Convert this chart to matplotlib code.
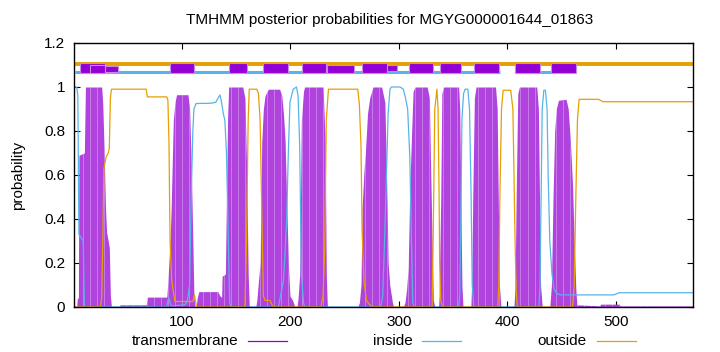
import matplotlib
matplotlib.use("Agg")
import numpy as np
import matplotlib.pyplot as plt
from matplotlib.lines import Line2D
from matplotlib.patches import Rectangle

plt.rcParams['font.family'] = ['Liberation Sans', 'DejaVu Sans']

title = "TMHMM posterior probabilities for MGYG000001644_01863"
seq_len = 571

# transmembrane posterior (residue, prob)
tm_x = [1, 3, 3.5, 4.5, 5, 10, 11, 26, 27, 28, 29.5, 30.5, 32, 33, 34, 35,
        42, 43, 67, 68, 86, 87, 89, 90, 91, 92, 93.5, 95, 105.5, 107, 108.5, 110, 111, 112,
        113, 114, 115.5, 133, 135, 136.5, 137, 140, 141, 142, 143, 156, 158, 159.5, 161, 162,
        168, 169, 170.5, 172, 173.5, 175, 176.5, 179.5, 190, 192, 193.5, 195, 196.5, 198, 199.5, 202, 204,
        206, 207, 208.5, 210, 212, 213, 230, 232, 233, 234,
        262, 263.5, 265, 266, 267.5, 269, 271, 273, 276, 284, 287, 288.5, 290, 291.5, 294, 295,
        304, 305.5, 307, 308.5, 310, 311.7, 313, 314.7, 326, 328, 329, 330.5, 331.7, 333,
        336.5, 337, 338.5, 339.5, 341, 355, 356, 357, 358, 359,
        366, 367, 368, 369.5, 371, 389, 390.5, 391.5, 392.5, 394,
        406, 407, 408, 409.5, 411, 427, 428.5, 429.5, 430.5, 432,
        439, 440.5, 442, 443.5, 445, 447, 454, 456, 458, 460, 461.5, 463, 464,
        485, 486, 503, 504, 571]
tm_y = [0, 0, 0.04, 0.04, 0.69, 0.70, 1.0, 1.0, 0.92, 0.75, 0.45, 0.34, 0.30, 0.27, 0.05, 0.0,
        0, 0.01, 0.01, 0.045, 0.045, 0.12, 0.3, 0.45, 0.65, 0.85, 0.93, 0.965, 0.965, 0.9, 0.65, 0.3, 0.05, 0.0,
        0, 0.04, 0.07, 0.07, 0.05, 0.045, 0.14, 0.15, 0.5, 0.85, 1.0, 1.0, 0.95, 0.65, 0.15, 0.0,
        0, 0.03, 0.12, 0.2, 0.75, 0.9, 0.96, 0.99, 0.99, 0.96, 0.88, 0.76, 0.48, 0.2, 0.05, 0.03, 0,
        0, 0.04, 0.15, 0.85, 0.98, 1.0, 1.0, 0.75, 0.15, 0,
        0, 0.02, 0.1, 0.45, 0.6, 0.7, 0.88, 0.95, 1.0, 1.0, 0.93, 0.6, 0.2, 0.1, 0.02, 0,
        0, 0.02, 0.08, 0.18, 0.55, 0.8, 0.98, 1.0, 1.0, 0.95, 0.68, 0.3, 0.03, 0,
        0, 0.05, 0.5, 0.97, 1.0, 1.0, 0.9, 0.5, 0.1, 0,
        0, 0.1, 0.5, 0.95, 1.0, 1.0, 0.9, 0.5, 0.1, 0,
        0, 0.1, 0.5, 0.97, 1.0, 1.0, 0.9, 0.5, 0.1, 0,
        0, 0.1, 0.5, 0.8, 0.9, 0.94, 0.944, 0.9, 0.75, 0.55, 0.3, 0.08, 0.01,
        0.005, 0.013, 0.013, 0.005, 0.005]

# inside posterior
in_x = [1, 3, 4, 5, 9, 10, 86, 87, 88, 89, 90, 103, 105, 107, 108.5, 110, 111, 113, 126, 131, 135,
        136.5, 138, 139.5, 141, 142.5, 144, 145,
        189, 190, 193.5, 195, 196.5, 198, 199.5, 202.5, 205.5, 207, 208.5, 210, 212, 213,
        283, 285, 286.7, 288.3, 290, 291.7, 293, 301, 304, 306, 308, 310, 311.5, 312.7, 314,
        355, 356, 357, 358, 359.5, 361, 363.5, 365, 366.5, 367.5, 369,
        429, 430, 431, 432, 433.5, 435, 436.5, 437.5, 439, 441, 443, 446, 449, 498, 503, 571]
in_y = [1.0, 1.0, 0.96, 0.33, 0.30, 0.0, 0, 0.03, 0.04, 0.02, 0.005, 0.01, 0.03, 0.1, 0.5, 0.8, 0.9, 0.925, 0.926, 0.93, 0.964,
        0.93, 0.88, 0.85, 0.7, 0.35, 0.02, 0,
        0, 0.03, 0.12, 0.25, 0.4, 0.7, 0.93, 0.99, 1.0, 0.96, 0.73, 0.15, 0.02, 0,
        0, 0.05, 0.3, 0.57, 0.88, 0.99, 1.0, 1.0, 0.99, 0.95, 0.9, 0.68, 0.3, 0.02, 0,
        0, 0.05, 0.4, 0.85, 0.97, 0.99, 0.99, 0.9, 0.5, 0.1, 0,
        0, 0.1, 0.5, 0.9, 0.985, 0.985, 0.9, 0.6, 0.3, 0.15, 0.08, 0.06, 0.055, 0.055, 0.065, 0.065]

# outside posterior
out_x = [1, 25, 26, 27, 28, 30, 32, 33, 34, 35, 67, 68, 86, 87, 88, 89, 90.5, 93.5, 110, 111.5, 113, 114,
         158, 159.5, 161, 162, 169, 170.5, 172, 173.5, 175, 176.5, 181, 184,
         228, 230, 231.5, 233, 235, 262, 263.5, 265, 266, 267.7, 270, 273, 276,
         330.5, 331.5, 333, 335, 336, 337, 337.5, 338.5, 340,
         391, 392, 393, 394.5, 396, 403, 405, 406, 407, 408, 409,
         460, 461.5, 463, 464.5, 466, 484, 488, 571]
out_y = [0, 0, 0.05, 0.3, 0.63, 0.68, 0.70, 0.72, 0.95, 0.99, 0.99, 0.955, 0.955, 0.94, 0.75, 0.3, 0.12, 0.025, 0.025, 0.055, 0.01, 0,
         0, 0.3, 0.85, 0.99, 0.99, 0.97, 0.85, 0.44, 0.05, 0.03, 0.03, 0,
         0, 0.05, 0.25, 0.85, 0.99, 0.99, 0.92, 0.73, 0.35, 0.12, 0.03, 0.01, 0,
         0, 0.3, 0.9, 0.99, 0.9, 0.5, 0.2, 0.03, 0,
         0, 0.1, 0.5, 0.9, 0.985, 0.985, 0.9, 0.6, 0.3, 0.08, 0,
         0, 0.1, 0.5, 0.85, 0.944, 0.944, 0.933, 0.933]

# topology bar segments (residues)
tm_box_start = [6, 15, 29, 89, 143, 175, 211, 234, 266, 289, 309, 338, 369, 407, 440]
tm_box_end = [29, 38, 41, 111, 160, 198, 233, 259, 289, 298, 331, 357, 392, 430, 463]
tm_box_low = [1.062, 1.062, 1.070, 1.062, 1.062, 1.062, 1.062, 1.062, 1.062, 1.073, 1.062, 1.062, 1.062, 1.062, 1.062]
tm_box_high = [1.110, 1.100, 1.095, 1.110, 1.110, 1.110, 1.110, 1.100, 1.110, 1.100, 1.110, 1.110, 1.110, 1.110, 1.110]
inside_seg_start = [1, 407]
inside_seg_end = [393, 440]

C_TM = '#9400d3'
C_IN = '#56b4e9'
C_OUT = '#e69f00'

fig = plt.figure(figsize=(7.2, 3.52), dpi=100)
ax = fig.add_axes([73.5 / 720, 1 - 307 / 352, (693 - 73.5) / 720, 264 / 352])

poly = ax.fill_between(tm_x, 0, tm_y, color='#b043de', lw=0, zorder=2)
# faint impulse-like striping inside the transmembrane area (decorative)
stripes = ax.vlines(np.arange(2.5, seq_len, 6.5), 0, 1.2, color='white', alpha=0.3, lw=0.7, zorder=2.5)
stripes.set_clip_path(poly.get_paths()[0], ax.transData)

ax.plot(in_x, in_y, color=C_IN, lw=0.9, zorder=3)
ax.plot(out_x, out_y, color=C_OUT, lw=0.9, zorder=3)

# topology bars
ax.plot([0, seq_len], [1.106, 1.106], color=C_OUT, lw=2.8, solid_capstyle='butt', zorder=4)
for s, e in zip(inside_seg_start, inside_seg_end):
    ax.plot([s, e], [1.068, 1.068], color=C_IN, lw=2.2, solid_capstyle='butt', zorder=4)
for s, e, lo, hi in zip(tm_box_start, tm_box_end, tm_box_low, tm_box_high):
    ax.add_patch(Rectangle((s, lo), e - s, hi - lo, facecolor=C_TM, edgecolor='#c58be4',
                           lw=0.8, zorder=5))

ax.set_xlim(0, seq_len)
ax.set_ylim(0, 1.2)
ax.set_xticks([100, 200, 300, 400, 500])
ax.set_yticks([0, 0.2, 0.4, 0.6, 0.8, 1.0, 1.2])
ax.set_yticklabels(['0', '0.2', '0.4', '0.6', '0.8', '1', '1.2'])
ax.tick_params(direction='in', length=4, width=0.8, top=True, right=True,
               labelsize=11, pad=6, colors='black')
for sp in ax.spines.values():
    sp.set_linewidth(1.0)
    sp.set_zorder(6)
ax.set_ylabel('probability', fontsize=11, labelpad=14)

fig.text(390 / 720, 1 - 20 / 352, title, ha='center', va='center', fontsize=11)

# legend
leg_items = [('transmembrane', C_TM, 238, 248), ('inside', C_IN, 413, 422), ('outside', C_OUT, 587, 597)]
ly = 1 - 341 / 352
for label, col, tx, lx in leg_items:
    fig.text(tx / 720, ly, label, ha='right', va='center', fontsize=11)
    fig.add_artist(Line2D([lx / 720, (lx + 39) / 720], [ly, ly], color=col, lw=0.9,
                          transform=fig.transFigure))

fig.savefig('out.png', dpi=100)
